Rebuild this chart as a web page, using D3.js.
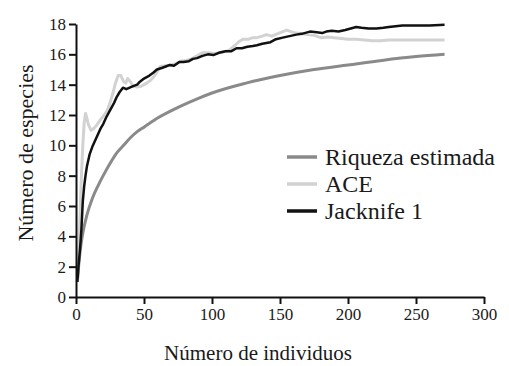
<!DOCTYPE html>
<html>
<head>
<meta charset="utf-8">
<script src="https://cdn.jsdelivr.net/npm/d3@7"></script>
<style>
  body { margin: 0; background: #fff; }
  text { font-family: "Liberation Serif", "Times New Roman", "DejaVu Serif", serif; fill: #1a1a1a; }
</style>
</head>
<body>
<div id="chart"></div>
<script>
// Chart size
const width = 509;
const height = 366;
const margin = {top: 24, right: 25, bottom: 69, left: 76};

// Data: [individuos, especies]
const riquezaX = [1, 2, 3, 5, 8, 12, 16, 20, 25, 30, 35, 40, 45, 50, 60, 75, 90, 100, 125, 150, 175, 200, 225, 250, 271];
const riquezaY = [1.0, 2.1, 3.0, 4.2, 5.4, 6.5, 7.3, 8.0, 8.8, 9.5, 10.0, 10.5, 10.9, 11.2, 11.8, 12.5, 13.1, 13.45, 14.1, 14.6, 15.0, 15.3, 15.6, 15.85, 16.0];

const aceX = [1, 2, 3, 4, 5, 6, 7, 8, 9, 11, 13, 15, 18, 20, 23, 25, 27, 29, 31, 33, 35, 36.5, 38, 40, 42, 45, 48, 52, 55, 57, 60, 62, 66, 70, 74, 77, 81, 85, 89, 93, 98, 102, 106, 110, 113, 117, 120, 123, 127, 130, 133, 137, 140, 144, 148, 152, 155, 158, 162, 166, 170, 175, 180, 185, 190, 195, 200, 206, 212, 218, 224, 230, 240, 250, 260, 271];
const aceY = [1, 3, 5.5, 8, 10, 11.5, 12.1, 11.8, 11.4, 11.0, 11.1, 11.3, 11.7, 11.9, 12.3, 12.8, 13.4, 14.1, 14.6, 14.6, 14.2, 14.1, 14.4, 14.2, 13.9, 13.85, 13.9, 14.1, 14.3, 14.5, 14.9, 15.2, 15.25, 15.3, 15.4, 15.55, 15.6, 15.7, 15.9, 16.1, 16.1, 16.05, 16.1, 16.2, 16.3, 16.6, 16.85, 17.0, 17.0, 17.1, 17.1, 17.2, 17.3, 17.2, 17.35, 17.5, 17.6, 17.5, 17.4, 17.35, 17.3, 17.25, 17.1, 17.15, 17.1, 17.05, 17.0, 17.0, 16.95, 16.9, 16.9, 16.95, 16.95, 16.95, 16.95, 16.95];

const jackX = [1, 2, 3, 4, 5, 6, 7, 8, 10, 12, 15, 18, 20, 22.5, 25, 28, 30, 32, 34.5, 37, 39.5, 42, 45, 47, 50, 54, 57, 59.5, 63, 66, 69, 72, 76, 79, 83, 86, 89, 93, 97, 101, 105, 110, 114, 118, 122, 126, 130, 133, 137, 140, 143, 147, 152, 157, 162, 166, 172, 177, 181, 184, 188, 193, 198, 202, 206, 210, 215, 221, 226, 230, 235, 240, 250, 260, 271];
const jackY = [1, 2.2, 3.2, 4.5, 6.3, 7.3, 8.0, 8.6, 9.4, 9.9, 10.5, 11.1, 11.4, 11.9, 12.3, 12.8, 13.2, 13.5, 13.8, 13.7, 13.8, 13.9, 14.0, 14.2, 14.4, 14.6, 14.8, 15.0, 15.1, 15.2, 15.3, 15.25, 15.5, 15.5, 15.55, 15.7, 15.75, 15.9, 16.0, 15.95, 16.1, 16.2, 16.2, 16.4, 16.4, 16.5, 16.55, 16.6, 16.7, 16.75, 16.8, 17.0, 17.1, 17.2, 17.3, 17.35, 17.5, 17.45, 17.4, 17.5, 17.55, 17.5, 17.6, 17.7, 17.8, 17.75, 17.7, 17.7, 17.75, 17.8, 17.85, 17.9, 17.9, 17.9, 17.95];

const xTicks = [0, 50, 100, 150, 200, 250, 300];
const yTicks = [0, 2, 4, 6, 8, 10, 12, 14, 16, 18];

const seriesNames = ["Riqueza estimada", "ACE", "Jacknife 1"];
const seriesColors = ["#8a8a8a", "#d2d2d2", "#111111"];

const series = [
  {name: seriesNames[0], color: seriesColors[0], width: 3, smooth: true, data: riquezaX.map((x, i) => [x, riquezaY[i]])},
  {name: seriesNames[1], color: seriesColors[1], width: 3, smooth: false, data: aceX.map((x, i) => [x, aceY[i]])},
  {name: seriesNames[2], color: seriesColors[2], width: 2.5, smooth: false, data: jackX.map((x, i) => [x, jackY[i]])}
];

const svg = d3.select("#chart").append("svg")
    .attr("width", width)
    .attr("height", height);

// Scales
const x = d3.scaleLinear().domain([0, 300]).range([margin.left, width - margin.right]);
const y = d3.scaleLinear().domain([0, 18]).range([height - margin.bottom, margin.top]);

// Lines
series.forEach(s => {
  const line = d3.line()
      .x(d => x(d[0]))
      .y(d => y(d[1]))
      .curve(s.smooth ? d3.curveMonotoneX : d3.curveLinear);
  svg.append("path")
      .datum(s.data)
      .attr("fill", "none")
      .attr("stroke", s.color)
      .attr("stroke-width", s.width)
      .attr("stroke-linejoin", "round")
      .attr("d", line);
});

// Axes
const xAxis = svg.append("g")
    .attr("transform", `translate(0,${y(0)})`)
    .call(d3.axisBottom(x).tickValues(xTicks).tickSize(7).tickSizeOuter(0).tickPadding(4));

const yAxis = svg.append("g")
    .attr("transform", `translate(${x(0)},0)`)
    .call(d3.axisLeft(y).tickValues(yTicks).tickSize(7).tickSizeOuter(0).tickPadding(3));

[xAxis, yAxis].forEach(g => {
  g.attr("font-family", null);
  g.selectAll(".domain").attr("stroke", "#111").attr("stroke-width", 2);
  g.selectAll(".tick line").attr("stroke", "#111").attr("stroke-width", 2);
  g.selectAll(".tick text")
      .style("font-family", "'Liberation Serif', 'Times New Roman', serif")
      .style("font-size", "17px")
      .attr("fill", "#1a1a1a");
});

// Axis titles
svg.append("text")
    .attr("x", 258)
    .attr("y", 360)
    .attr("text-anchor", "middle")
    .style("font-size", "21px")
    .text("Número de individuos");

svg.append("text")
    .attr("transform", "translate(33,153) rotate(-90)")
    .attr("text-anchor", "middle")
    .style("font-size", "22px")
    .text("Número de especies");

// Legend
const legend = svg.append("g");
series.forEach((s, i) => {
  const ly = 157 + i * 27;
  legend.append("line")
      .attr("x1", 287).attr("x2", 317)
      .attr("y1", ly).attr("y2", ly)
      .attr("stroke", s.color)
      .attr("stroke-width", 3.5);
  legend.append("text")
      .attr("x", 325)
      .attr("y", ly + 8)
      .style("font-size", "24px")
      .text(s.name);
});
</script>
</body>
</html>
